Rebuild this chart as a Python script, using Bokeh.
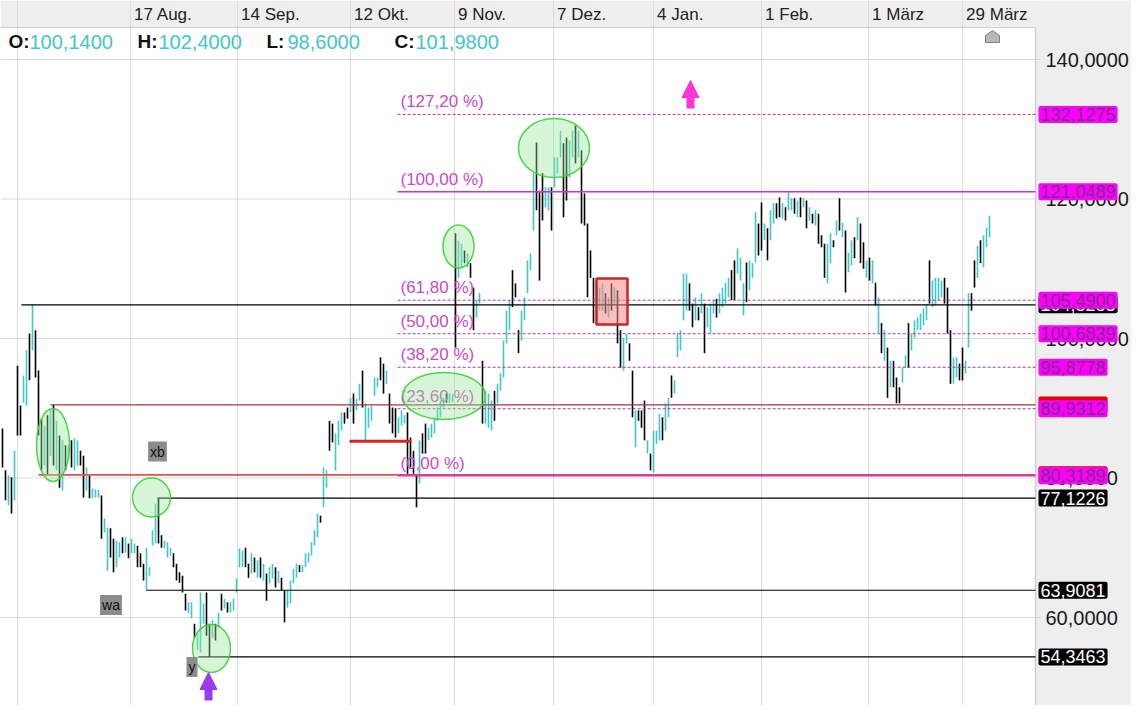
from bokeh.plotting import figure
from bokeh.models import Range1d, Label, Arrow, NormalHead, ColumnDataSource
from bokeh.embed import file_html
from bokeh.resources import INLINE
from bokeh.core.properties import value

# ---------------- data ----------------
highs = [
    87.1, 81.1, 80.4, 80.1, 83.9, 96.1, 90.4, 94.7, 98.3, 100.7,
    104.83, 101.2, 95.4, 88.5, 87.5, 89.0, 89.7, 90.5, 88.2, 86.1,
    85.4, 84.7, 84.7, 85.4, 85.7, 85.4, 83.9, 83.2, 81.5, 80.4,
    78.5, 78.4, 78.3, 77.5, 74.2, 72.9, 72.8, 71.3, 71.0, 70.8,
    71.5, 71.5, 70.6, 71.3, 70.6, 70.3, 69.2, 67.7, 70.0, 67.2,
    72.5, 76.3, 77.12, 71.8, 71.0, 70.8, 70.0, 69.2, 67.7, 66.5,
    66.0, 63.4, 62.2, 62.2, 59.1, 57.7, 63.6, 62.0, 63.6, 59.1,
    59.6, 59.1, 60.7, 63.4, 62.7, 62.2, 62.2, 62.7, 65.6, 69.9,
    69.6, 70.0, 67.7, 69.2, 68.6, 68.2, 68.6, 67.7, 66.3, 67.2,
    67.7, 67.2, 66.7, 65.7, 63.9, 63.9, 65.3, 67.0, 67.7, 67.5,
    67.5, 69.2, 69.3, 70.8, 72.5, 74.9, 74.6, 81.5, 81.1, 88.2,
    87.8, 86.4, 88.2, 89.4, 89.4, 90.1, 91.5, 92.1, 91.4, 93.5,
    95.4, 90.7, 90.1, 90.4, 94.4, 94.4, 97.3, 96.4, 95.4, 92.1,
    90.1, 90.0, 88.7, 89.7, 89.0, 89.4, 85.8, 83.9, 80.6, 85.4,
    86.4, 87.8, 87.2, 87.8, 88.7, 90.1, 91.1, 91.5, 92.1, 92.1,
    92.0, 115.1, 114.0, 113.6, 112.6, 112.2, 110.8, 107.3, 105.5, 106.5,
    96.8, 92.5, 92.1, 91.1, 92.5, 93.5, 95.0, 99.7, 104.0, 105.5,
    109.8, 107.9, 101.2, 104.0, 105.9, 111.2, 112.2, 123.7, 128.1, 121.2,
    123.7, 121.7, 121.7, 121.7, 126.0, 126.0, 129.8, 128.0, 128.8, 128.4,
    129.8, 130.5, 129.8, 127.0, 120.8, 116.5, 112.6, 108.7, 108.3, 107.3,
    107.9, 106.5, 105.9, 107.9, 107.3, 106.9, 101.2, 100.1, 100.7, 99.3,
    95.4, 89.7, 89.7, 89.7, 91.1, 85.4, 83.5, 86.8, 86.8, 89.2,
    88.7, 90.7, 91.5, 94.7, 94.0, 100.7, 101.2, 109.3, 109.3, 107.9,
    105.0, 105.9, 104.5, 106.5, 105.0, 104.5, 105.0, 105.5, 105.7, 106.5,
    107.3, 108.0, 108.7, 109.8, 111.2, 112.9, 111.6, 107.9, 110.9, 111.2,
    110.8, 118.1, 116.5, 119.5, 116.5, 115.8, 118.4, 119.4, 119.4, 120.2,
    119.4, 118.8, 121.05, 120.1, 120.1, 119.8, 120.2, 120.1, 119.8, 118.8,
    117.9, 118.4, 117.9, 114.8, 113.6, 113.6, 115.1, 114.1, 116.9, 120.1,
    116.6, 115.5, 112.3, 114.1, 114.5, 117.4, 116.5, 113.8, 111.2, 111.6,
    111.2, 108.0, 105.9, 102.2, 101.2, 98.7, 96.8, 96.8, 94.4, 93.0,
    95.8, 97.6, 102.2, 100.7, 102.6, 103.0, 103.6, 104.3, 105.0, 111.2,
    108.3, 108.7, 108.7, 108.3, 108.7, 107.3, 101.2, 97.3, 97.3, 96.4,
    98.7, 96.8, 106.5, 106.5, 111.2, 113.3, 114.1, 114.8, 115.9, 117.6,
]
lows = [
    81.5, 76.8, 76.1, 74.9, 76.8, 86.1, 86.1, 90.8, 90.4, 94.0,
    98.3, 94.4, 86.1, 81.1, 81.8, 80.4, 83.2, 81.8, 81.1, 78.6,
    78.2, 81.1, 82.5, 81.5, 81.1, 81.8, 81.8, 77.2, 78.2, 77.1,
    77.1, 77.2, 77.2, 71.3, 72.2, 66.7, 68.6, 66.5, 67.2, 68.6,
    69.2, 69.3, 68.5, 69.2, 69.2, 67.2, 67.2, 65.3, 63.91, 66.0,
    70.3, 70.6, 70.6, 70.0, 69.9, 68.6, 68.9, 67.2, 65.3, 65.0,
    63.6, 61.0, 60.6, 59.9, 57.1, 55.3, 55.0, 59.1, 57.4, 54.35,
    57.1, 56.7, 58.6, 61.0, 61.3, 60.7, 60.7, 61.0, 63.6, 67.2,
    67.2, 67.2, 65.7, 66.3, 66.5, 65.7, 65.7, 65.3, 62.4, 64.9,
    65.6, 64.3, 64.9, 63.9, 59.3, 61.4, 62.0, 64.9, 65.7, 66.5,
    66.5, 67.2, 67.9, 68.9, 70.3, 71.5, 73.6, 75.8, 78.6, 83.9,
    85.1, 81.1, 84.7, 86.8, 87.8, 88.5, 89.4, 87.8, 89.7, 91.1,
    90.1, 85.4, 87.2, 88.2, 91.8, 93.0, 94.0, 92.1, 93.5, 87.8,
    86.4, 85.8, 86.4, 87.5, 87.8, 80.6, 81.5, 80.6, 75.8, 79.2,
    83.5, 83.5, 85.4, 85.8, 86.4, 88.2, 88.7, 90.1, 90.8, 90.8,
    90.9, 98.7, 108.7, 110.2, 110.8, 110.2, 108.7, 101.2, 103.0, 105.0,
    87.8, 87.8, 87.2, 86.8, 88.2, 90.7, 92.5, 94.4, 99.3, 101.2,
    104.5, 105.9, 97.9, 99.7, 102.6, 106.5, 109.8, 115.5, 118.4, 108.3,
    116.9, 118.8, 118.4, 115.5, 121.7, 123.7, 126.0, 117.4, 119.8, 123.1,
    126.0, 125.1, 126.0, 116.5, 116.2, 105.9, 108.7, 102.2, 102.6, 104.0,
    104.0, 103.6, 103.0, 104.0, 105.0, 99.3, 95.8, 95.4, 99.3, 96.8,
    88.7, 84.4, 88.2, 87.2, 85.4, 83.5, 81.1, 80.8, 84.9, 85.4,
    85.4, 86.8, 88.7, 91.5, 92.1, 97.3, 98.3, 102.6, 104.0, 104.0,
    101.6, 102.6, 102.6, 103.6, 97.9, 101.6, 100.7, 103.6, 103.0, 103.6,
    104.5, 105.0, 105.9, 105.5, 105.5, 109.3, 108.3, 103.3, 105.2, 106.9,
    108.7, 110.9, 111.9, 112.6, 114.1, 111.2, 114.1, 116.5, 117.2, 117.4,
    117.2, 116.9, 118.4, 118.4, 117.9, 117.4, 117.4, 118.8, 115.8, 116.9,
    116.5, 116.2, 113.6, 113.1, 108.7, 107.9, 110.8, 113.1, 114.8, 115.5,
    114.5, 106.6, 109.5, 110.5, 111.5, 114.1, 110.8, 110.0, 108.7, 108.3,
    107.9, 104.7, 100.7, 97.9, 96.8, 91.5, 93.0, 93.0, 90.7, 90.7,
    93.7, 95.8, 95.8, 98.3, 100.1, 101.2, 101.2, 101.9, 102.6, 105.0,
    104.5, 104.7, 105.5, 105.9, 105.0, 100.7, 93.5, 93.5, 94.4, 94.0,
    94.0, 95.0, 98.7, 104.0, 107.3, 108.7, 110.8, 110.2, 113.1, 114.5,
]
# u = up bar (teal), d = down bar (black)
directions = "".join([
    "ddududduud", "udddududud", "ududuuddud", "uuuduudduu", "duduuddduu",
    "uudduuuddd", "dduuduuudd", "udududuuuu", "uddudududu", "ududduuuud",
    "uuuuuuduud", "duuudduduu", "duuuuuddud", "dduuuddddu", "dduuuuuudu",
    "uduududduu", "duuuduuuuu", "ddduuuuudd", "duuduuuddu", "ududdddduu",
    "udududduud", "duddduduuu", "duuduuuuud", "dududuuudu", "uuudduuudu",
    "uudduduudd", "uduudududu", "duddduudud", "uduududdud", "ududududdd",
    "uuduuuuuud", "uuuuddduud", "duudduduuu",
])
date_grid = [5.0, 42.67, 78.33, 116.0, 150.67, 183.67, 217.0, 253.0, 288.67, 320.0]
date_labels = ["", "17 Aug.", "14 Sep.", "12 Okt.", "9 Nov.", "7 Dez.", "4 Jan.",
               "1 Feb.", "1 März", "29 März"]
y_ticks = [60, 80, 100, 120, 140]

fib_low, fib_high = 80.3189, 121.0489
fib_pcts = [0.0, 23.6, 38.2, 50.0, 61.8, 100.0, 127.2]
fib_start = 131.7

black_levels = [104.8283, 77.1226, 63.9081, 54.3463]
black_starts = [6.3, 51.7, 48.0, 65.3]
red_levels = [90.47, 80.45]
red_starts = [16.0, 12.0]

ohlc_names = ["O:", "H:", "L:", "C:"]
ohlc_vals = [100.14, 102.40, 98.60, 101.98]

# ---------------- layout helpers ----------------
FONT = "Liberation Sans"
TEAL = "#43c6c6"
PANEL = "#eeeeee"
W, H = 1131, 705
X_START = -2 / 3
X_END = X_START + W / 3
Y_TOP = 148.459
Y_BOT = Y_TOP - H / 6.975


def xd(px):
    return X_START + px / 3


def yd(py):
    return Y_TOP - py / 6.975


def de(v, nd=4):
    return f"{v:.{nd}f}".replace(".", ",")


n = len(highs)
assert len(lows) == n and len(directions) == n
PX = xd(1035)          # right edge of chart area / start of price panel

p = figure(frame_width=W, frame_height=H, output_backend="svg", toolbar_location=None,
           x_range=Range1d(X_START, X_END), y_range=Range1d(Y_BOT, Y_TOP),
           x_axis_location=None, y_axis_location=None,
           min_border_left=0, min_border_right=0, min_border_top=0, min_border_bottom=0,
           background_fill_color="white", border_fill_color=PANEL,
           outline_line_color=None)
p.grid.visible = False

# header strip and right price panel
hb = yd(27)
p.quad(left=X_START, right=X_END, bottom=hb, top=Y_TOP, fill_color=PANEL, line_color=None)
p.quad(left=PX, right=X_END, bottom=Y_BOT, top=Y_TOP, fill_color=PANEL, line_color=None)

# grid lines (vertical ones double as header separators)
p.segment(x0=date_grid, x1=date_grid, y0=Y_BOT, y1=Y_TOP, line_color="#dcdcdc", line_width=1)
p.segment(x0=[X_START] * len(y_ticks), x1=[xd(1040)] * len(y_ticks), y0=y_ticks, y1=y_ticks,
          line_color="#dcdcdc", line_width=1)
p.segment(x0=[X_START], x1=[PX], y0=[hb], y1=[hb], line_color="#d0d0d0")
p.segment(x0=[PX], x1=[PX], y0=[Y_BOT], y1=[hb], line_color="#cfcfcf", line_width=1.5)

p.text(x=[g + 1.2 for g in date_grid], y=[yd(14)] * len(date_grid), text=date_labels,
       text_align="left", text_baseline="middle", text_font=value(FONT),
       text_font_size="17px", text_color="#222222")

# price axis labels
p.text(x=[xd(1045)] * len(y_ticks), y=y_ticks, text=[de(t) for t in y_ticks],
       text_align="left", text_baseline="middle", text_font=value(FONT),
       text_font_size="20px", text_color="#1a1a1a")

# OHLC row
ohlc_px = [8, 137, 266, 394]
p.text(x=[xd(v) for v in ohlc_px], y=[yd(41)] * 4, text=ohlc_names,
       text_align="left", text_baseline="middle", text_font=value(FONT),
       text_font_size="19px", text_font_style="bold", text_color="#111111")
p.text(x=[xd(v + 21) for v in ohlc_px], y=[yd(41)] * 4,
       text=[de(v) for v in ohlc_vals], text_align="left", text_baseline="middle",
       text_font=value(FONT), text_font_size="20px", text_color=TEAL)

# bars
src = ColumnDataSource(dict(x=list(range(n)), hi=highs, lo=lows,
                            c=[TEAL if d == "u" else "#000000" for d in directions]))
p.segment(x0="x", y0="lo", x1="x", y1="hi", line_color="c", line_width=1.6, source=src)

# horizontal levels
p.segment(x0=red_starts, x1=[PX] * 2, y0=red_levels, y1=red_levels,
          line_color=["#a83245", "#e0524f"], line_width=[1.3, 1.6])
p.segment(x0=black_starts, x1=[PX] * 4, y0=black_levels, y1=black_levels,
          line_color="#000000", line_width=1.2)
p.segment(x0=[xd(349)], x1=[xd(411)], y0=[yd(440.7)], y1=[yd(440.7)],
          line_color="#dd2020", line_width=3)

fib_vals = [fib_low + q / 100 * (fib_high - fib_low) for q in fib_pcts]
solid = [v for q, v in zip(fib_pcts, fib_vals) if q in (0.0, 100.0)]
dashed = [v for q, v in zip(fib_pcts, fib_vals) if q not in (0.0, 100.0)]
p.segment(x0=[fib_start] * len(solid), x1=[PX] * len(solid), y0=solid, y1=solid,
          line_color="#cc33cc", line_width=1.4)
p.segment(x0=[fib_start] * len(dashed), x1=[PX] * len(dashed), y0=dashed, y1=dashed,
          line_color="#a040a0", line_width=1, line_dash="3 2")
p.text(x=[xd(400)] * len(fib_vals), y=fib_vals,
       text=[f"({de(q, 2)} %)" for q in fib_pcts], text_align="left",
       text_baseline="bottom", y_offset=-3, text_font=value(FONT),
       text_font_size="17px", text_color="#c84bc8")

# highlight ellipses & box
ell = [(52.5, 444.6, 33, 73), (151, 497, 38, 39), (211, 648, 38, 48),
       (458, 246, 31, 43), (443.5, 395.5, 83, 47), (553.5, 147.5, 71, 59)]
p.ellipse(x=[xd(e[0]) for e in ell], y=[yd(e[1]) for e in ell],
          width=[e[2] / 3 for e in ell], height=[e[3] / 6.975 for e in ell],
          fill_color="#9be89b", fill_alpha=0.4, line_color="#3ccf3c",
          line_width=1.5, line_alpha=0.9)
p.quad(left=[xd(596)], right=[xd(627)], top=[yd(278)], bottom=[yd(324)],
       fill_color="#f28b8b", fill_alpha=0.55, line_color="#c62828", line_width=2.5)

# wave labels
for txt, cx, cy in [("xb", 157, 451), ("wa", 110.5, 604.5), ("y", 191.5, 666.5)]:
    p.add_layout(Label(x=xd(cx), y=yd(cy), text=txt, text_align="center",
                       text_baseline="middle", text_font=FONT,
                       text_font_size="14px", text_color="#111111",
                       background_fill_color="#8c8c8c", padding=2))

# arrows
for cx, ytail, ytip, col in [(690, 108, 80, "#ff33dd"), (208, 700, 672, "#9a3bf0")]:
    p.add_layout(Arrow(end=NormalHead(size=17, fill_color=col, line_color=col),
                       x_start=xd(cx), y_start=yd(ytail), x_end=xd(cx), y_end=yd(ytip),
                       line_color=col, line_width=8))

# last-bar marker
cx = n
hw = 7 / 3
p.patch(x=[cx - hw, cx - hw, cx, cx + hw, cx + hw],
        y=[yd(42), yd(35), yd(30), yd(35), yd(42)],
        fill_color="#b8b8b8", line_color="#808080", line_width=1)


# price tags on the right panel
def tag(v, bg, fg):
    p.add_layout(Label(x=xd(1038), y=v, text=de(v), text_align="left",
                       text_baseline="middle", text_font=FONT, text_font_size="18px",
                       text_color=fg, background_fill_color=bg, padding=2,
                       border_radius=2))


tag(black_levels[0], "#000000", "#ffffff")
for v in red_levels:
    tag(v, "#e00000", "#e00000")
for v in fib_vals:
    tag(v, "#ff00ff", "#7d2b8b")
for v in black_levels[1:]:
    tag(v, "#000000", "#ffffff")

open("out.html", "w").write(file_html(p, INLINE))
